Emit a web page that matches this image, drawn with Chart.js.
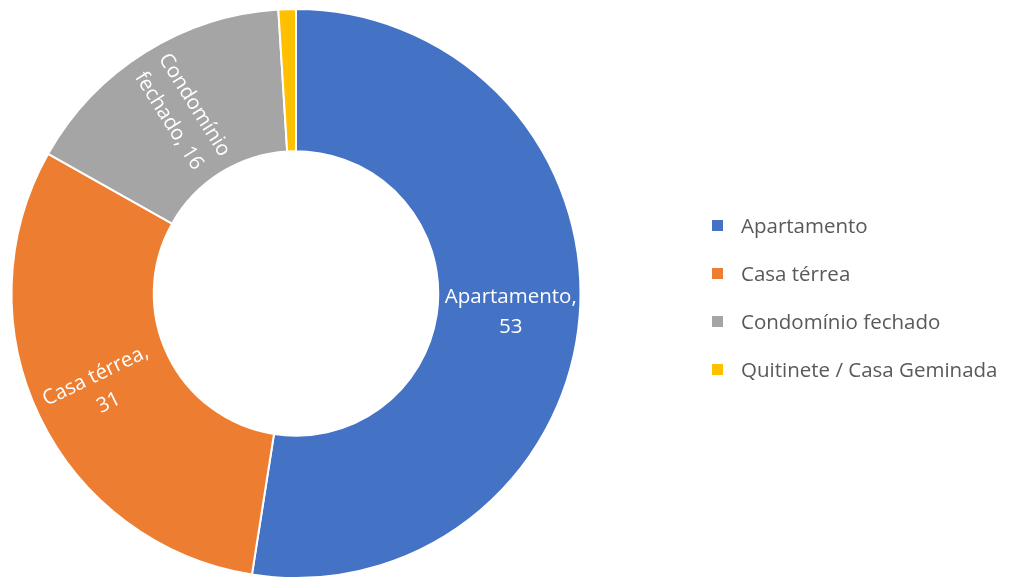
<!DOCTYPE html>
<html lang="pt">
<head>
  <meta charset="UTF-8">
  <title>Tipo de moradia</title>
  <script src="https://cdn.jsdelivr.net/npm/chart.js"></script>
  <style>
    body { margin: 0; background: #ffffff; font-family: "Open Sans", sans-serif; }
    #wrap { position: relative; width: 1011px; height: 579px; }
    #legend { position: absolute; left: 712px; top: 201px; }
    .item { display: flex; align-items: center; height: 48px; color: #595959; font-size: 20.5px; white-space: nowrap; }
    .box { width: 11px; height: 11px; margin-right: 18px; flex: none; }
  </style>
</head>
<body>
<div id="wrap">
  <canvas id="moradia" width="1011" height="579"></canvas>
  <div id="legend"></div>
</div>
<script>
  const categories = ['Apartamento', 'Casa térrea', 'Condomínio fechado', 'Quitinete / Casa Geminada'];
  const labelLines = [['Apartamento,', '53'], ['Casa térrea,', '31'], ['Condomínio', 'fechado, 16'], null];
  const values = [53, 31, 16, 1];
  const colors = ['#4472C4', '#ED7D31', '#A5A5A5', '#FFC000'];

  // labels inside the ring, turned along the slice like in Excel
  const sliceLabels = {
    id: 'sliceLabels',
    afterDatasetsDraw(chart) {
      const ctx = chart.ctx;
      const arcs = chart.getDatasetMeta(0).data;
      ctx.save();
      ctx.fillStyle = '#ffffff';
      ctx.font = '20.5px "Open Sans", sans-serif';
      ctx.textAlign = 'center';
      ctx.textBaseline = 'middle';
      arcs.forEach((arc, i) => {
        const lines = labelLines[i];
        if (!lines) return;
        const p = arc.getProps(['x', 'y', 'startAngle', 'endAngle', 'innerRadius', 'outerRadius'], true);
        const mid = (p.startAngle + p.endAngle) / 2;
        const r = (p.innerRadius + p.outerRadius) / 2 + 2;
        const cx = p.x + Math.cos(mid) * r;
        const cy = p.y + Math.sin(mid) * r + 2;
        let rot = mid;
        while (rot > Math.PI / 2) rot -= Math.PI;
        while (rot < -Math.PI / 2) rot += Math.PI;
        if (Math.abs(rot) < 0.15) rot = 0;
        ctx.save();
        ctx.translate(cx, cy);
        ctx.rotate(rot);
        const lh = 30;
        lines.forEach((t, k) => {
          ctx.fillText(t, 0, (k - (lines.length - 1) / 2) * lh);
        });
        ctx.restore();
      });
      ctx.restore();
    }
  };

  new Chart(document.getElementById('moradia'), {
    type: 'doughnut',
    data: {
      labels: categories,
      datasets: [{
        data: values,
        backgroundColor: colors,
        borderColor: '#ffffff',
        borderWidth: 2
      }]
    },
    options: {
      responsive: false,
      animation: false,
      cutout: '50%',
      layout: { padding: { left: 10, top: 8, right: 429, bottom: 0 } },
      plugins: {
        legend: { display: false },
        tooltip: { enabled: false }
      }
    },
    plugins: [sliceLabels]
  });

  const legend = document.getElementById('legend');
  categories.forEach((c, i) => {
    const row = document.createElement('div');
    row.className = 'item';
    row.innerHTML = '<span class="box" style="background:' + colors[i] + '"></span><span>' + c + '</span>';
    legend.appendChild(row);
  });
</script>
</body>
</html>
